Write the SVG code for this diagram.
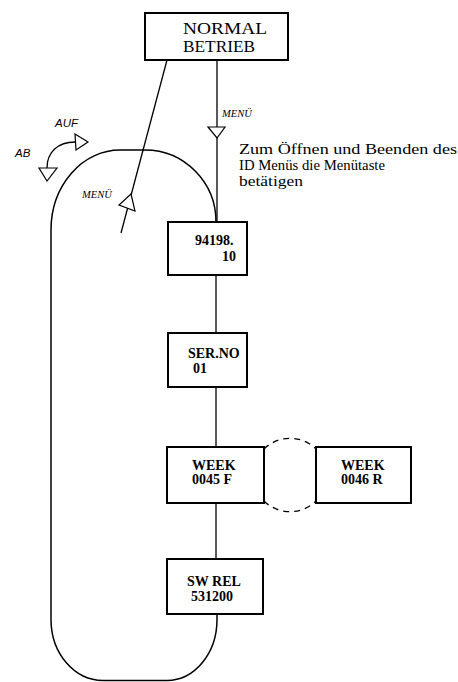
<svg xmlns="http://www.w3.org/2000/svg" width="458" height="682" viewBox="0 0 458 682">
  <style>
    .box { fill: #fff; stroke: #000; stroke-width: 2; }
    .line { fill: none; stroke: #000; stroke-width: 1.3; }
    .loop { fill: none; stroke: #000; stroke-width: 1.5; }
    .dash { fill: none; stroke: #000; stroke-width: 1.3; stroke-dasharray: 6 5; }
    .tri { fill: #fff; stroke: #000; stroke-width: 1.2; stroke-linejoin: miter; }
    .lbl { font-family: "Liberation Serif", "DejaVu Serif", serif; font-weight: bold; font-size: 14px; fill: #000; }
    .title { font-family: "Liberation Serif", "DejaVu Serif", serif; font-size: 17px; fill: #000; }
    .note { font-family: "Liberation Serif", "DejaVu Serif", serif; font-size: 15.5px; fill: #000; }
    .menu { font-family: "Liberation Serif", "DejaVu Serif", serif; font-style: italic; font-size: 10.5px; fill: #000; }
    .nav { font-family: "Liberation Sans", Arial, sans-serif; font-style: italic; font-size: 11.5px; fill: #000; }
  </style>

  <!-- connectors -->
  <g id="connectors">
    <!-- menu key path from normal operation into the ID menu -->
    <line class="line" x1="217" y1="60" x2="217" y2="222"/>
    <polygon class="tri" points="208,127 225,127 217,138"/>
    <!-- return path out of the menu -->
    <line class="line" x1="167" y1="60" x2="121" y2="233"/>
    <polygon class="tri" points="131,194 119,205 135,211"/>
    <!-- chain between menu entries -->
    <line class="line" x1="216" y1="275" x2="216" y2="333"/>
    <line class="line" x1="216" y1="387" x2="216" y2="447"/>
    <line class="line" x1="216" y1="503" x2="216" y2="559"/>
    <!-- rounded loop closing the menu cycle -->
    <path class="loop" d="M120,150 L145,150 A71 72 0 0 1 216,222"/>
    <path class="loop" d="M217,614 L217,620 A50 61 0 0 1 167,680.5 L103,680.5 A52 61 0 0 1 51,620 L51,230 A69 80 0 0 1 120,150"/>
    <!-- toggle between WEEK entries -->
    <path class="dash" d="M264,449 A37 37 0 0 1 316,449"/>
    <path class="dash" d="M264,501 A37 37 0 0 0 316,501"/>
    <!-- up / down indicator -->
    <path class="line" d="M47,168 C47,152 58,142 75,142"/>
    <polygon class="tri" points="75,134 88,142 76,150"/>
    <polygon class="tri" points="39,168 57,168 47,181"/>
  </g>

  <text class="menu" x="222" y="117">MENÜ</text>
  <text class="menu" x="82" y="198">MENÜ</text>
  <text class="nav" x="55" y="127">AUF</text>
  <text class="nav" x="15" y="157">AB</text>

  <g id="note">
    <text class="note" x="239" y="154" textLength="218" lengthAdjust="spacingAndGlyphs">Zum Öffnen und Beenden des</text>
    <text class="note" x="239" y="170" textLength="146" lengthAdjust="spacingAndGlyphs">ID Menüs die Menütaste</text>
    <text class="note" x="239" y="186" textLength="64" lengthAdjust="spacingAndGlyphs">betätigen</text>
  </g>

  <g id="normal-betrieb">
    <rect class="box" x="145" y="13" width="143" height="47"/>
    <text class="title" x="183" y="34" textLength="84" lengthAdjust="spacingAndGlyphs">NORMAL</text>
    <text class="title" x="183" y="52" textLength="72" lengthAdjust="spacingAndGlyphs">BETRIEB</text>
  </g>

  <g id="node-94198">
    <rect class="box" x="168" y="222" width="79" height="53"/>
    <text class="lbl" x="195" y="245">94198.</text>
    <text class="lbl" x="222" y="261">10</text>
  </g>

  <g id="node-serno">
    <rect class="box" x="168" y="333" width="79" height="54"/>
    <text class="lbl" x="188" y="358">SER.NO</text>
    <text class="lbl" x="193" y="373">01</text>
  </g>

  <g id="node-week-f">
    <rect class="box" x="167" y="447" width="97" height="56"/>
    <text class="lbl" x="192" y="470">WEEK</text>
    <text class="lbl" x="192" y="484">0045 F</text>
  </g>

  <g id="node-week-r">
    <rect class="box" x="316" y="447" width="95" height="56"/>
    <text class="lbl" x="341" y="470">WEEK</text>
    <text class="lbl" x="341" y="484">0046 R</text>
  </g>

  <g id="node-swrel">
    <rect class="box" x="167" y="559" width="96" height="55"/>
    <text class="lbl" x="187" y="586">SW REL</text>
    <text class="lbl" x="191" y="601">531200</text>
  </g>
</svg>
